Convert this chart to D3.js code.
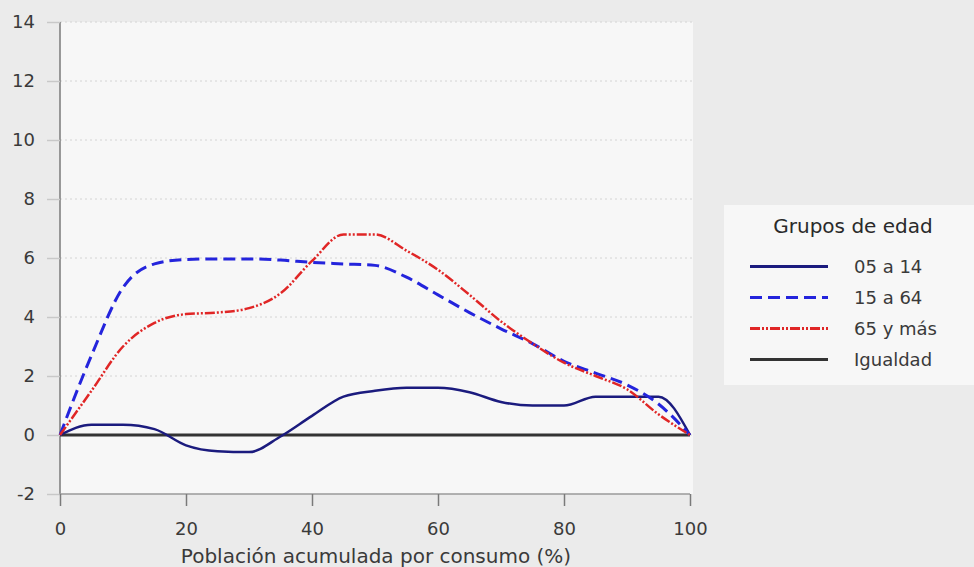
<!DOCTYPE html>
<html>
<head>
<meta charset="utf-8">
<script src="https://cdn.jsdelivr.net/npm/d3@7"></script>
<style>
  html, body { margin: 0; padding: 0; background: #ebebeb; }
  svg { display: block; font-family: "DejaVu Sans", Verdana, sans-serif; }
</style>
</head>
<body>
<div id="chart"></div>
<script>
// Concentration curves by age group
const xValues   = [0, 5, 10, 15, 20, 25, 30, 35, 40, 45, 50, 55, 60, 65, 70, 75, 80, 85, 90, 95, 100];
const grupo0514 = [0, 0.35, 0.35, 0.2, -0.35, -0.55, -0.58, -0.05, 0.65, 1.3, 1.5, 1.6, 1.6, 1.45, 1.12, 1.0, 1.0, 1.3, 1.3, 1.3, 0];
const grupo1564 = [0, 2.7, 5.0, 5.8, 5.95, 5.97, 5.97, 5.93, 5.85, 5.8, 5.75, 5.35, 4.75, 4.15, 3.6, 3.1, 2.5, 2.1, 1.7, 1.05, 0];
const grupo65   = [0, 1.5, 3.0, 3.8, 4.1, 4.15, 4.3, 4.8, 5.9, 6.8, 6.8, 6.25, 5.6, 4.75, 3.85, 3.1, 2.45, 2.0, 1.55, 0.7, 0];
const igualdad  = [0, 0];
const igualdadX = [0, 100];

const seriesNames = ["05 a 14", "15 a 64", "65 y más", "Igualdad"];
const xTicks = [0, 20, 40, 60, 80, 100];
const yTicks = [-2, 0, 2, 4, 6, 8, 10, 12, 14];

const W = 974, H = 567;
const plotL = 60, plotR = 690, plotT = 22, plotB = 494;
const FONT = "DejaVu Sans, Verdana, sans-serif";

const svg = d3.select("#chart").append("svg")
  .attr("width", W).attr("height", H);

svg.append("rect").attr("width", W).attr("height", H).attr("fill", "#ebebeb");

const x = d3.scaleLinear().domain([0, 100]).range([plotL, plotR]);
const y = d3.scaleLinear().domain([-2, 14]).range([plotB, plotT]);

// panel
svg.append("rect")
  .attr("x", plotL).attr("y", plotT)
  .attr("width", plotR - plotL + 3).attr("height", plotB - plotT)
  .attr("fill", "#f7f7f7");

// dotted gridlines
svg.append("g").selectAll("line")
  .data(yTicks.filter(t => t !== -2))
  .join("line")
  .attr("x1", plotL).attr("x2", plotR + 3)
  .attr("y1", d => y(d)).attr("y2", d => y(d))
  .attr("stroke", "#d4d4d4")
  .attr("stroke-width", 1)
  .attr("stroke-dasharray", "2,3");

// y axis
const yAxis = svg.append("g")
  .attr("transform", `translate(${plotL},0)`)
  .call(d3.axisLeft(y).tickValues(yTicks).tickSize(13).tickPadding(12).tickFormat(d => String(d)));
yAxis.select(".domain").attr("stroke", "#7a7a7a").attr("stroke-width", 1.5)
  .attr("d", `M0,${plotT}V${plotB}`);
yAxis.selectAll(".tick line").attr("stroke", "#c8c8c8").attr("stroke-width", 1.5);
yAxis.selectAll(".tick text").attr("font-size", 18).attr("fill", "#3a3a3a")
  .attr("font-family", FONT);

// x axis
const xAxis = svg.append("g")
  .attr("transform", `translate(0,${plotB})`)
  .call(d3.axisBottom(x).tickValues(xTicks).tickSize(12).tickPadding(16));
xAxis.select(".domain").attr("stroke", "#9a9a9a").attr("stroke-width", 1.5)
  .attr("d", `M${plotL},0H${plotR}`);
xAxis.selectAll(".tick line").attr("stroke", "#7a7a7a").attr("stroke-width", 1.5);
xAxis.selectAll(".tick text").attr("font-size", 18).attr("fill", "#3a3a3a")
  .attr("font-family", FONT);

svg.append("text")
  .attr("x", 376).attr("y", 563)
  .attr("text-anchor", "middle")
  .attr("font-size", 20).attr("fill", "#3a3a3a")
  .text("Población acumulada por consumo (%)");

// lines
const line = d3.line()
  .x(d => x(d[0])).y(d => y(d[1]))
  .curve(d3.curveMonotoneX);

const styles = [
  { color: "#1b1b7e", width: 2.5, dash: null },
  { color: "#2424dc", width: 3, dash: "12,6" },
  { color: "#e02626", width: 2.5, dash: "10,2,2,2,2,2" },
  { color: "#333333", width: 3, dash: null },
];

svg.append("path")
  .datum(igualdadX.map((v, i) => [v, igualdad[i]]))
  .attr("d", d3.line().x(d => x(d[0])).y(d => y(d[1])))
  .attr("fill", "none").attr("stroke", styles[3].color).attr("stroke-width", styles[3].width);

[grupo0514, grupo1564, grupo65].forEach((vals, i) => {
  svg.append("path")
    .datum(xValues.map((v, j) => [v, vals[j]]))
    .attr("d", line)
    .attr("fill", "none")
    .attr("stroke", styles[i].color)
    .attr("stroke-width", styles[i].width)
    .attr("stroke-dasharray", styles[i].dash);
});

// legend
const lg = svg.append("g");
lg.append("rect")
  .attr("x", 724).attr("y", 205).attr("width", 250).attr("height", 180)
  .attr("fill", "#f7f7f7");
lg.append("text")
  .attr("x", 853).attr("y", 233)
  .attr("text-anchor", "middle")
  .attr("font-size", 20).attr("fill", "#2a2a2a")
  .text("Grupos de edad");

seriesNames.forEach((name, i) => {
  const yy = 266.5 + i * 31;
  lg.append("line")
    .attr("x1", 750).attr("x2", 828)
    .attr("y1", yy).attr("y2", yy)
    .attr("stroke", styles[i].color)
    .attr("stroke-width", 3)
    .attr("stroke-dasharray", styles[i].dash);
  lg.append("text")
    .attr("x", 854).attr("y", yy + 6.5)
    .attr("font-size", 18).attr("fill", "#3a3a3a")
    .text(name);
});
</script>
</body>
</html>
